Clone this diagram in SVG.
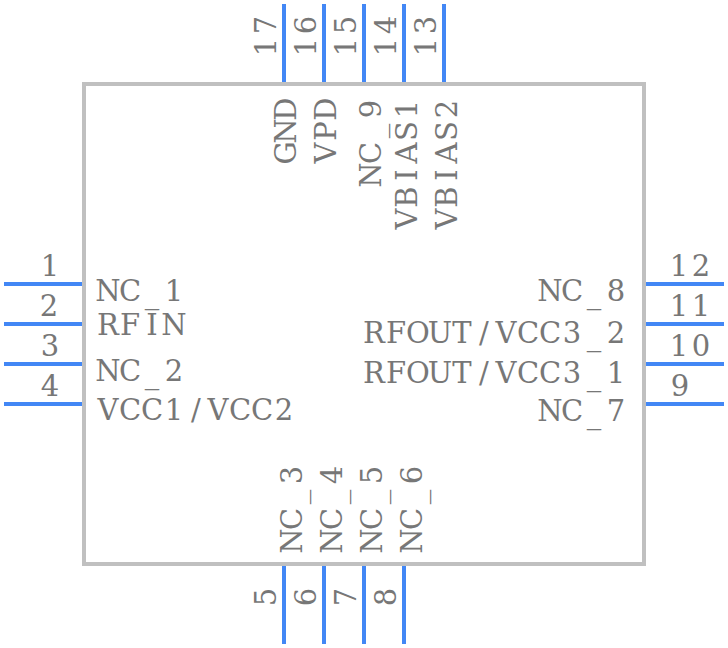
<svg xmlns="http://www.w3.org/2000/svg" width="728" height="648" viewBox="0 0 728 648">
<style>
text{font-family:"DejaVu Serif",serif;font-size:29px;fill:#777;text-anchor:middle}
.p{stroke:#4287f5;stroke-width:4;fill:none}
.b{stroke:#c0c0c0;stroke-width:4;fill:#fff}
</style>
<rect width="728" height="648" fill="#fff"/>
<g id="connectors">
<path class="p" d="M4 284H84M4 324H84M4 364H84M4 404H84M644 284H724M644 324H724M644 364H724M644 404H724M284 4V84M324 4V84M364 4V84M404 4V84M444 4V84M284 564V644M324 564V644M364 564V644M404 564V644"/>
</g>
<g id="body"><rect class="b" x="84" y="84" width="560" height="480"/></g>
<g id="pin-numbers">
<text x="50" y="276">1</text><text x="49" y="316">2</text><text x="50" y="356">3</text><text x="50" y="396">4</text>
<text x="679 701" y="276">12</text><text x="679 701" y="316">11</text><text x="679 701" y="356">10</text><text x="680" y="396">9</text>
<text transform="translate(276 58) rotate(-90)" x="11 33">17</text><text transform="translate(316 58) rotate(-90)" x="11 33">16</text><text transform="translate(356 58) rotate(-90)" x="11 33">15</text><text transform="translate(396 58) rotate(-90)" x="11 33">14</text><text transform="translate(436 58) rotate(-90)" x="11 33">13</text>
<text transform="translate(276 597) rotate(-90)">5</text><text transform="translate(316 597) rotate(-90)">6</text><text transform="translate(356 597) rotate(-90)">7</text><text transform="translate(396 597) rotate(-90)">8</text>
</g>
<g id="pin-names">
<text x="108 130 152 174" y="301" dy="0 0 2 -2">NC_1</text>
<text x="108 130 152 174" y="335">RFIN</text>
<text x="108 130 152 174" y="381" dy="0 0 2 -2">NC_2</text>
<text x="108 130 152 174 196 218 240 262 284" y="420">VCC1/VCC2</text>
<text x="550 572 594 616" y="301" dy="0 0 2 -2">NC_8</text>
<text x="374 396 418 440 462 484 506 528 550 572 594 616" y="343" dy="0 0 0 0 0 0 0 0 0 0 2 -2">RFOUT/VCC3_2</text>
<text x="374 396 418 440 462 484 506 528 550 572 594 616" y="383" dy="0 0 0 0 0 0 0 0 0 0 2 -2">RFOUT/VCC3_1</text>
<text x="550 572 594 616" y="421" dy="0 0 2 -2">NC_7</text>
<text transform="translate(296 98) rotate(-90)" x="-55 -33 -11">GND</text>
<text transform="translate(336 98) rotate(-90)" x="-55 -33 -11">VPD</text>
<text transform="translate(381 98) rotate(-90)" x="-77 -55 -33 -11" dy="0 0 2 -2">NC_9</text>
<text transform="translate(417 98) rotate(-90)" x="-121 -99 -77 -55 -33 -11">VBIAS1</text>
<text transform="translate(457 98) rotate(-90)" x="-121 -99 -77 -55 -33 -11">VBIAS2</text>
<text transform="translate(302 552) rotate(-90)" x="11 33 55 77" dy="0 0 2 -2">NC_3</text>
<text transform="translate(342 552) rotate(-90)" x="11 33 55 77" dy="0 0 2 -2">NC_4</text>
<text transform="translate(382 552) rotate(-90)" x="11 33 55 77" dy="0 0 2 -2">NC_5</text>
<text transform="translate(422 552) rotate(-90)" x="11 33 55 77" dy="0 0 2 -2">NC_6</text>
</g>
</svg>
